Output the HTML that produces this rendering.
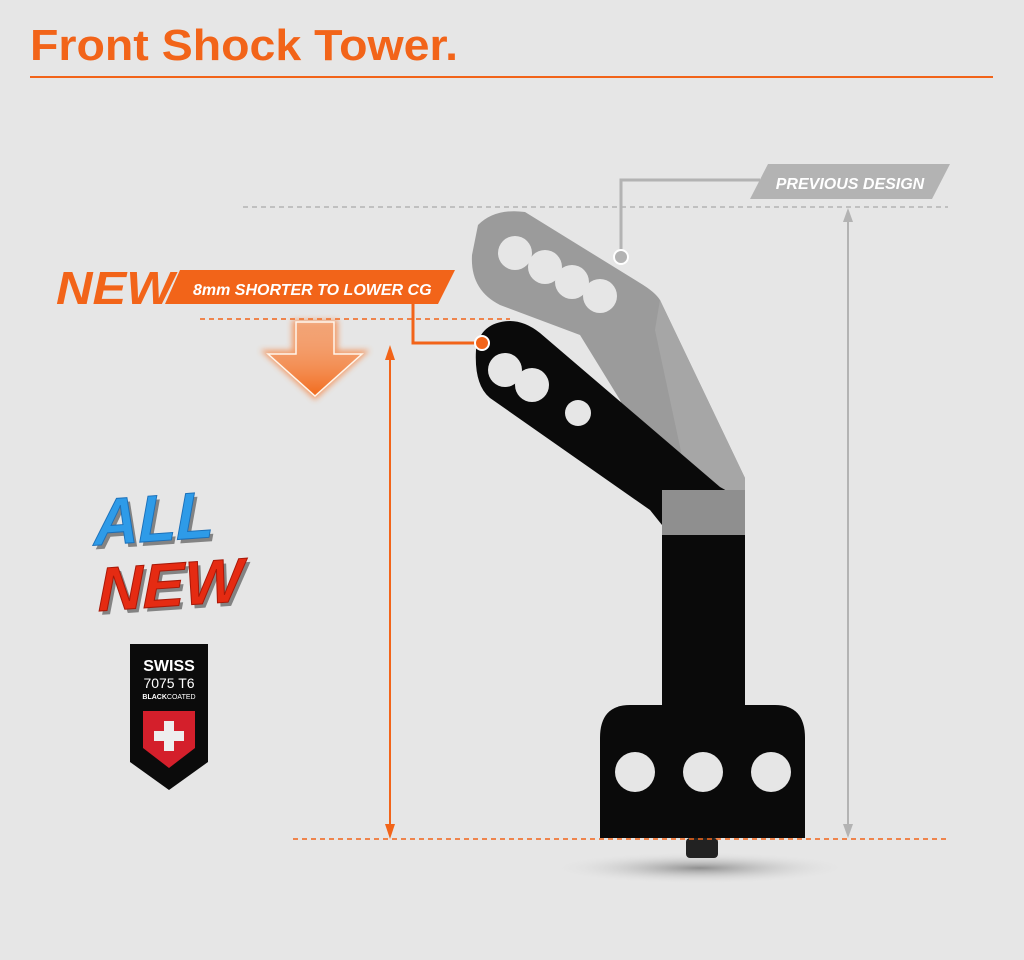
<!DOCTYPE html>
<html><head><meta charset="utf-8"><style>
html,body{margin:0;padding:0;background:#e6e6e6;}
svg{display:block}
</style></head><body>
<svg width="1024" height="960" viewBox="0 0 1024 960" xmlns="http://www.w3.org/2000/svg">
<defs>
<radialGradient id="sh" cx="50%" cy="50%" r="50%"><stop offset="0" stop-color="#555" stop-opacity=".6"/><stop offset="1" stop-color="#e6e6e6" stop-opacity="0"/></radialGradient>
<linearGradient id="ar" x1="0" y1="0" x2="0" y2="1"><stop offset="0" stop-color="#f7b58f" stop-opacity=".2"/><stop offset="1" stop-color="#f26a1b"/></linearGradient>
<filter id="gl"><feGaussianBlur stdDeviation="3"/></filter>
</defs>
<rect width="1024" height="960" fill="#e6e6e6"/>
<text x="30" y="60" font-family="Liberation Sans, sans-serif" font-weight="bold" font-size="44" fill="#f26419" textLength="428" lengthAdjust="spacingAndGlyphs">Front Shock Tower.</text>
<rect x="30" y="76" width="963" height="2" fill="#f26419"/>

<!-- grey dims -->
<line x1="243" y1="207" x2="948" y2="207" stroke="#b3b3b3" stroke-width="1.5" stroke-dasharray="5,4"/>
<line x1="848" y1="215" x2="848" y2="832" stroke="#b3b3b3" stroke-width="2"/>
<polygon points="848,208 843,222 853,222" fill="#b3b3b3"/>
<polygon points="848,838 843,824 853,824" fill="#b3b3b3"/>
<polyline points="621,257 621,180 760,180" fill="none" stroke="#b3b3b3" stroke-width="3"/>
<polygon points="768,164 950,164 932,199 750,199" fill="#b3b3b3"/>
<text x="850" y="189" text-anchor="middle" font-family="Liberation Sans, sans-serif" font-weight="bold" font-style="italic" font-size="16" fill="#fff">PREVIOUS DESIGN</text>

<!-- shadow -->
<ellipse cx="700" cy="868" rx="150" ry="16" fill="url(#sh)"/>

<!-- grey previous -->
<path d="M478,225 Q495,208 525,212 L640,283 Q655,292 660,300 L745,478 L745,540 L662,540 L662,495 L620,400 L580,335 L500,305 Q470,290 472,255 Z" fill="#9b9b9b"/>
<path d="M660,300 L745,478 L745,540 L700,540 L655,330 Z" fill="#a6a6a6"/>
<g fill="#e6e6e6"><circle cx="515" cy="253" r="17"/><circle cx="545" cy="267" r="17"/><circle cx="572" cy="282" r="17"/><circle cx="600" cy="296" r="17"/></g>

<!-- black new -->
<path d="M476,350 Q480,322 510,321 Q525,321 540,333 L720,487 Q745,500 745,520 L745,705 L662,705 L662,525 L650,510 L490,398 Q474,385 476,350 Z" fill="#0a0a0a"/>
<rect x="662" y="490" width="83" height="45" fill="#8f8f8f"/>
<g fill="#e6e6e6"><circle cx="505" cy="370" r="17"/><circle cx="532" cy="385" r="17"/><circle cx="578" cy="413" r="13"/></g>
<path d="M600,738 Q600,705 630,705 L775,705 Q805,705 805,738 L805,838 L600,838 Z" fill="#0a0a0a"/>
<g fill="#e6e6e6"><circle cx="635" cy="772" r="20"/><circle cx="703" cy="772" r="20"/><circle cx="771" cy="772" r="20"/></g>
<rect x="686" y="838" width="32" height="20" rx="4" fill="#222"/>
<circle cx="621" cy="257" r="7" fill="#b3b3b3" stroke="#fff" stroke-width="2"/>

<!-- orange dims -->
<line x1="200" y1="319" x2="510" y2="319" stroke="#f26419" stroke-width="1.5" stroke-dasharray="5,4"/>
<line x1="293" y1="839" x2="948" y2="839" stroke="#f26419" stroke-width="1.5" stroke-dasharray="5,4"/>
<line x1="390" y1="352" x2="390" y2="832" stroke="#f26419" stroke-width="2"/>
<polygon points="390,345 385,360 395,360" fill="#f26419"/>
<polygon points="390,839 385,824 395,824" fill="#f26419"/>
<polyline points="413,304 413,343 482,343" fill="none" stroke="#f26419" stroke-width="3"/>
<circle cx="482" cy="343" r="7" fill="#f26419" stroke="#fff" stroke-width="2"/>

<!-- banner -->
<polygon points="180,270 455,270 438,304 165,304" fill="#f26419"/>
<text x="56" y="304" font-family="Liberation Sans, sans-serif" font-weight="bold" font-style="italic" font-size="46" fill="#f26419" textLength="118" lengthAdjust="spacingAndGlyphs">NEW</text>
<text x="193" y="295" font-family="Liberation Sans, sans-serif" font-weight="bold" font-style="italic" font-size="16" fill="#fff">8mm SHORTER TO LOWER CG</text>

<!-- glow arrow -->
<polygon points="292,320 338,320 338,350 370,350 315,400 260,350 292,350" fill="#f7803a" filter="url(#gl)" opacity=".7"/>
<polygon points="296,322 334,322 334,354 362,354 315,396 268,354 296,354" fill="url(#ar)" stroke="#fff6ec" stroke-width="1.5"/>

<!-- ALL NEW -->
<g font-family="Liberation Sans, sans-serif" font-weight="bold" font-style="italic">
<text x="97" y="556" font-size="66" fill="#222" opacity=".5" transform="skewY(-4)" textLength="120" lengthAdjust="spacingAndGlyphs">ALL</text>
<text x="94" y="552" font-size="66" fill="#2e9be8" transform="skewY(-4)" stroke="#1b6fb8" stroke-width="1" textLength="120" lengthAdjust="spacingAndGlyphs">ALL</text>
<text x="101" y="622" font-size="62" fill="#222" opacity=".5" transform="skewY(-4)" textLength="145" lengthAdjust="spacingAndGlyphs">NEW</text>
<text x="98" y="618" font-size="62" fill="#e52b12" transform="skewY(-4)" stroke="#a81808" stroke-width="1" textLength="145" lengthAdjust="spacingAndGlyphs">NEW</text>
</g>

<!-- swiss badge -->
<polygon points="130,644 208,644 208,762 169,790 130,762" fill="#0b0b0b"/>
<text x="169" y="671" text-anchor="middle" font-family="Liberation Sans, sans-serif" font-weight="bold" font-size="16" fill="#fff">SWISS</text>
<text x="169" y="688" text-anchor="middle" font-family="Liberation Sans, sans-serif" font-size="14" fill="#fff">7075 T6</text>
<text x="169" y="699" text-anchor="middle" font-family="Liberation Sans, sans-serif" font-size="7" fill="#fff"><tspan font-weight="bold">BLACK</tspan>COATED</text>
<path d="M143,711 L195,711 L195,748 L169,768 L143,748 Z" fill="#d41f2b"/>
<rect x="164" y="721" width="10" height="30" fill="#eee"/>
<rect x="154" y="731" width="30" height="10" fill="#eee"/>
</svg>
</body></html>
